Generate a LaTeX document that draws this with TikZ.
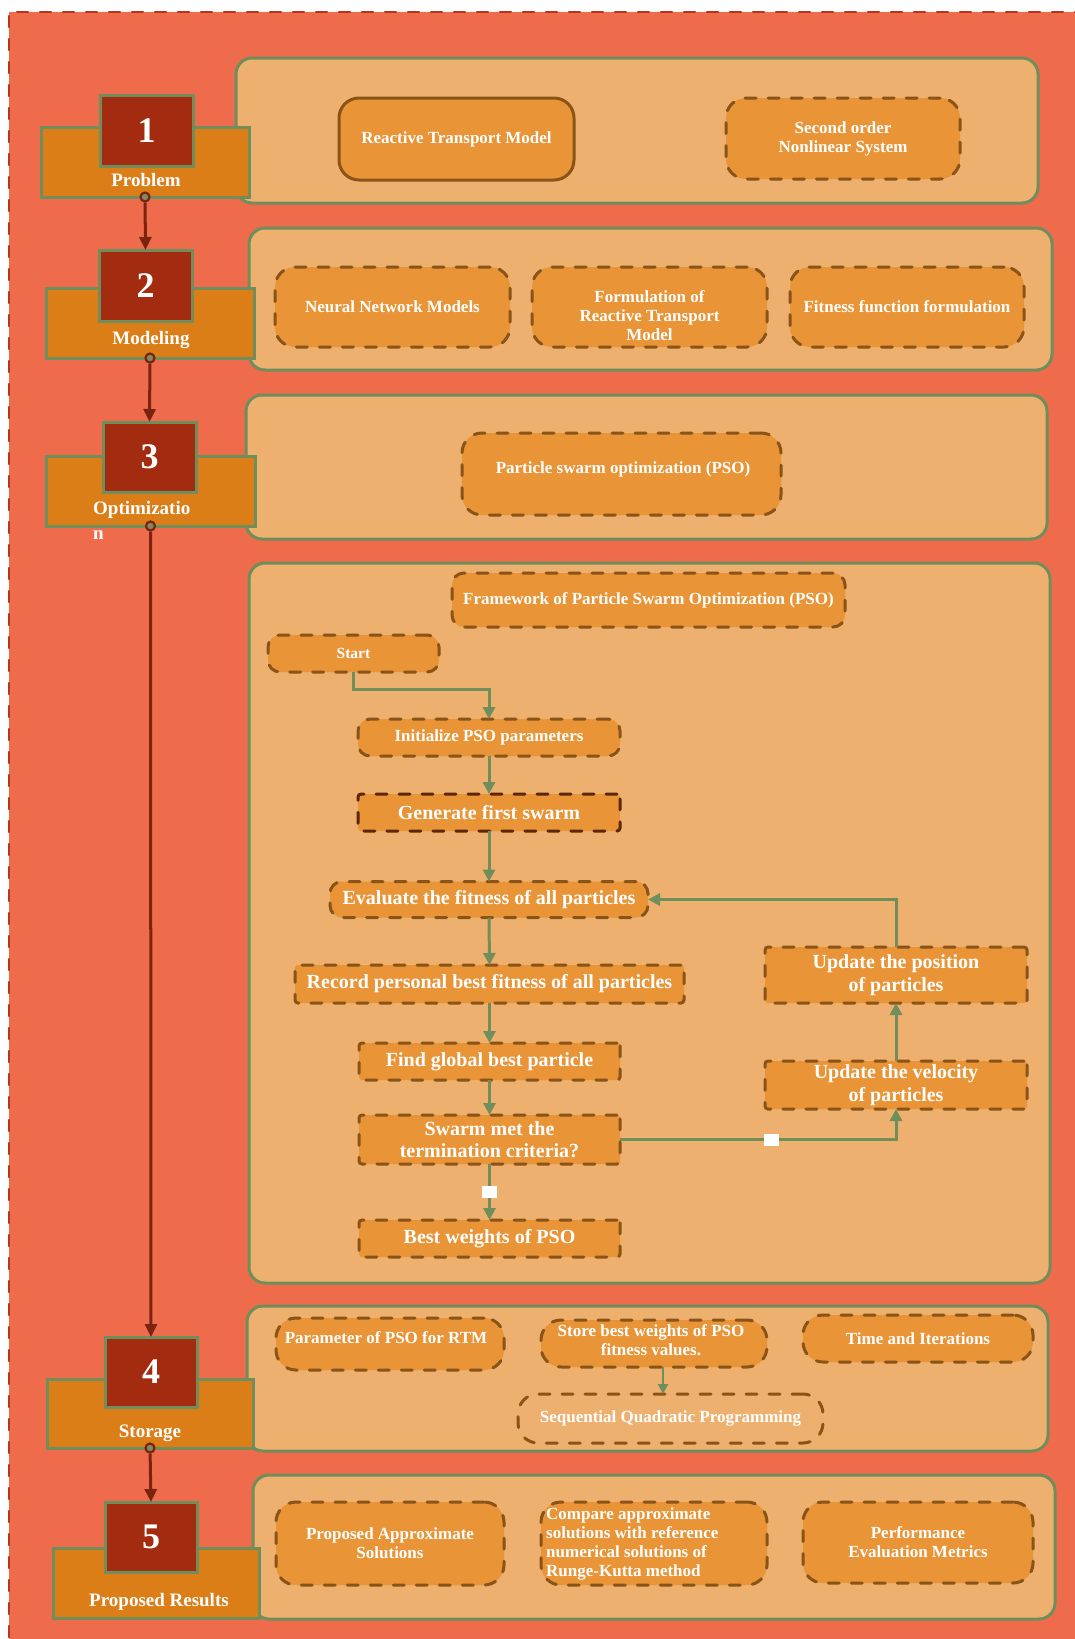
\documentclass[tikz,border=0pt]{standalone}
\usepackage{fontspec}
\setmainfont{Liberation Serif}
\usetikzlibrary{arrows.meta}

\definecolor{bgc}{HTML}{EE6B4B}
\definecolor{bgline}{HTML}{B8351C}
\definecolor{pfill}{HTML}{EDB06F}
\definecolor{pgreen}{HTML}{6F8E5C}
\definecolor{ifill}{HTML}{E89437}
\definecolor{ibrd}{HTML}{8A5317}
\definecolor{gbrd}{HTML}{5C2608}
\definecolor{numc}{HTML}{A32C10}
\definecolor{labc}{HTML}{DC7E18}
\definecolor{connc}{HTML}{7A2410}
\definecolor{dotfill}{HTML}{808B62}

\newcommand\fNum{\fontsize{36}{40}\selectfont\bfseries}
\newcommand\fLab{\fontsize{19}{25}\selectfont\bfseries}
\newcommand\fItem{\fontsize{17}{19}\selectfont\bfseries}
\newcommand\fFlow{\fontsize{20}{22.5}\selectfont\bfseries}
\newcommand\fFlowS{\fontsize{17}{19}\selectfont\bfseries}
\newcommand\fStart{\fontsize{15.5}{18}\selectfont\bfseries}

\tikzset{
  wh/.style 2 args={minimum width=#1pt, minimum height=#2pt},
  panel/.style={draw=pgreen, fill=pfill, line width=3pt, rounded corners=16pt, inner sep=0pt, outer sep=0pt},
  numbox/.style={draw=pgreen, fill=numc, line width=3pt, text=white, font=\fNum, inner sep=0pt, outer sep=0pt},
  labbox/.style={draw=pgreen, fill=labc, line width=3pt, inner sep=0pt, outer sep=0pt},
  labtext/.style={text=white, font=\fLab, inner sep=0pt},
  dotc/.style={circle, draw=connc, fill=dotfill, line width=2.2pt, minimum size=9pt, inner sep=0pt},
  conn/.style={draw=connc, line width=3pt, -{Triangle[length=13pt,width=12pt]}},
  itembox/.style={draw=ibrd, fill=ifill, line width=3pt, dash pattern=on 11pt off 12pt, line cap=round, rounded corners=20pt, text=white, font=\fItem, align=center, inner sep=0pt, outer sep=0pt},
  solidbox/.style={itembox, solid},
  flowround/.style={itembox, rounded corners=12pt, font=\fFlow},
  flowsq/.style={itembox, rounded corners=3pt, font=\fFlow},
  flowarr/.style={draw=pgreen, line width=3pt, -{Triangle[length=12pt,width=12pt]}},
  sqlab/.style={fill=white, minimum width=15pt, minimum height=12pt, inner sep=0pt},
  plaintext/.style={text=white, font=\fItem, align=center, inner sep=0pt}
}

\begin{document}
\begin{tikzpicture}[x=1pt, y=-1pt]
\useasboundingbox (0,0) rectangle (1075,1639);
\begin{scope}
\clip (0,0) rectangle (1075,1639);
\fill[white] (0,0) rectangle (1075,1639);
\fill[bgc] (9,12) rectangle (1100,1660);
\draw[bgline, line width=2.5pt, dash pattern=on 11pt off 12pt, line cap=round] (9,1660) -- (9,12) -- (1100,12);
\end{scope}

% panels
\node[panel, wh={802}{145}] (p1) at (637,130.5) {};
\node[panel, wh={803}{142}] (p2) at (650.5,299) {};
\node[panel, wh={801}{144}] (p3) at (646.5,467) {};
\node[panel, wh={801}{720}] (pf) at (649.5,923) {};
\node[panel, wh={801}{145}] (p4) at (647.5,1378.5) {};
\node[panel, wh={802}{144}] (p5) at (654,1547) {};

% step label boxes and number boxes
\node[labbox, wh={208}{70}] (lab1) at (145,162) {};
\node[numbox, wh={93}{71}] (num1) at (146.5,130.5) {1};
\node[labtext] (t1) at (146,180) {Problem};

\node[labbox, wh={208}{70}] (lab2) at (150,323) {};
\node[numbox, wh={93}{71}] (num2) at (145.5,285.5) {2};
\node[labtext] (t2) at (151,340) {Modeling};

\node[labbox, wh={209}{70}] (lab3) at (150.5,491) {};
\node[numbox, wh={93}{70}] (num3) at (149.5,457) {3};
\node[labtext, align=left, anchor=north west] (t3) at (93,501) {Optimizatio\\n};

\node[labbox, wh={206}{69}] (lab4) at (150,1413.5) {};
\node[numbox, wh={92}{70}] (num4) at (151,1372) {4};
\node[labtext] (t4) at (150,1433) {Storage};

\node[labbox, wh={206}{70}] (lab5) at (156,1583) {};
\node[numbox, wh={92}{70}] (num5) at (151,1537) {5};
\node[labtext] (t5) at (159,1602) {Proposed Results};

% left connectors
\node[dotc] (c1) at (lab1.south) {};
\node[dotc] (c2) at (lab2.south) {};
\node[dotc] (c3) at (lab3.south) {};
\node[dotc] (c4) at (lab4.south) {};
\draw[conn] (c1) -- (num2.north);
\draw[conn] (c2) -- (num3.north);
\draw[conn] (c3) -- (num4.north);
\draw[conn] (c4) -- (num5.north);

% panel 1
\node[solidbox, wh={235}{82}] (rtm) at (456.5,139) {Reactive Transport Model};
\node[itembox, wh={234}{81}] (son) at (843,138.5) {Second order\\Nonlinear System};

% panel 2
\node[itembox, wh={235}{80}] (nnm) at (392.5,307) {Neural Network Models};
\node[itembox, wh={235}{80}] (frtm) at (649.5,307) {};
\node[plaintext] (frtmT) at ([yshift=-9pt]frtm.center) {Formulation of\\Reactive Transport\\Model};
\node[itembox, wh={234}{80}] (ffit) at (907,307) {Fitness function formulation};

% panel 3
\node[itembox, wh={319}{82}] (pso) at (621.5,474) {};
\node[plaintext] (psoT) at ([xshift=1.5pt,yshift=5pt]pso.center) {Particle swarm optimization (PSO)};

% framework panel
\node[flowround, font=\fFlowS, wh={393}{54}] (fw) at (648.5,600) {Framework of Particle Swarm Optimization (PSO)};
\node[flowround, font=\fStart, wh={171}{37}] (start) at (353.5,653.5) {Start};
\node[flowround, font=\fFlowS, wh={262}{37}] (init) at (489,737.5) {Initialize PSO parameters};
\node[flowsq, draw=gbrd, wh={262}{37}] (gen) at (489,812.5) {Generate first swarm};
\node[flowround, wh={318}{36}] (eval) at (489,899.5) {Evaluate the fitness of all particles};
\node[flowsq, wh={389}{38}] (rec) at (489.5,984) {Record personal best fitness of all particles};
\node[flowsq, wh={261}{37}] (find) at (489.5,1061.5) {Find global best particle};
\node[flowsq, wh={261}{49}] (swarm) at (489.5,1139.5) {Swarm met the\\termination criteria?};
\node[flowsq, wh={261}{37}] (best) at (489.5,1238.5) {Best weights of PSO};
\node[flowsq, wh={262}{56}] (pos) at (896,975) {Update the position\\of particles};
\node[flowsq, wh={262}{48}] (vel) at (896,1085) {Update the velocity\\of particles};

\draw[flowarr] (start.south) -- ++(0,17) -| (init.north);
\draw[flowarr] (init.south) -- (gen.north);
\draw[flowarr] (gen.south) -- (eval.north);
\draw[flowarr] (eval.south) -- (rec.north);
\draw[flowarr] (rec.south) -- (find.north);
\draw[flowarr] (find.south) -- (swarm.north);
\draw[flowarr] (swarm.south) -- node[sqlab, pos=0.5] (yes) {} (best.north);
\draw[flowarr] (swarm.east) -| node[sqlab, pos=0.275] (no) {} (vel.south);
\draw[flowarr] (vel.north) -- (pos.south);
\draw[flowarr] (pos.north) |- (eval.east);

% panel 4
\node[itembox, wh={228}{52}] (par) at (390,1344) {};
\node[plaintext] (parT) at (386,1338) {Parameter of PSO for RTM};
\node[itembox, wh={226}{47}] (store) at (654,1343.5) {};
\node[plaintext] (storeT) at (651,1340.5) {Store best weights of PSO\\fitness values.};
\node[itembox, wh={230}{47}] (time) at (918,1338.5) {Time and Iterations};
\node[itembox, fill=pfill, wh={305}{49}] (sqp) at (670.5,1418.5) {Sequential Quadratic Programming};
\coordinate (sa) at ([xshift=9pt]store.south);
\draw[draw=pgreen, line width=2.5pt, -{Triangle[length=10pt,width=10pt]}] (sa) -- (sa |- sqp.north);

% panel 5
\node[itembox, wh={228}{83}] (pas) at (390,1543.5) {Proposed Approximate\\Solutions};
\node[itembox, wh={226}{83}] (cmp) at (654,1543.5) {};
\node[plaintext, align=left, anchor=west] (cmpT) at ([xshift=5pt]cmp.west) {Compare approximate\\solutions with reference\\numerical solutions of\\Runge-Kutta method};
\node[itembox, wh={230}{81}] (pem) at (918,1542.5) {Performance\\Evaluation Metrics};
\end{tikzpicture}
\end{document}
